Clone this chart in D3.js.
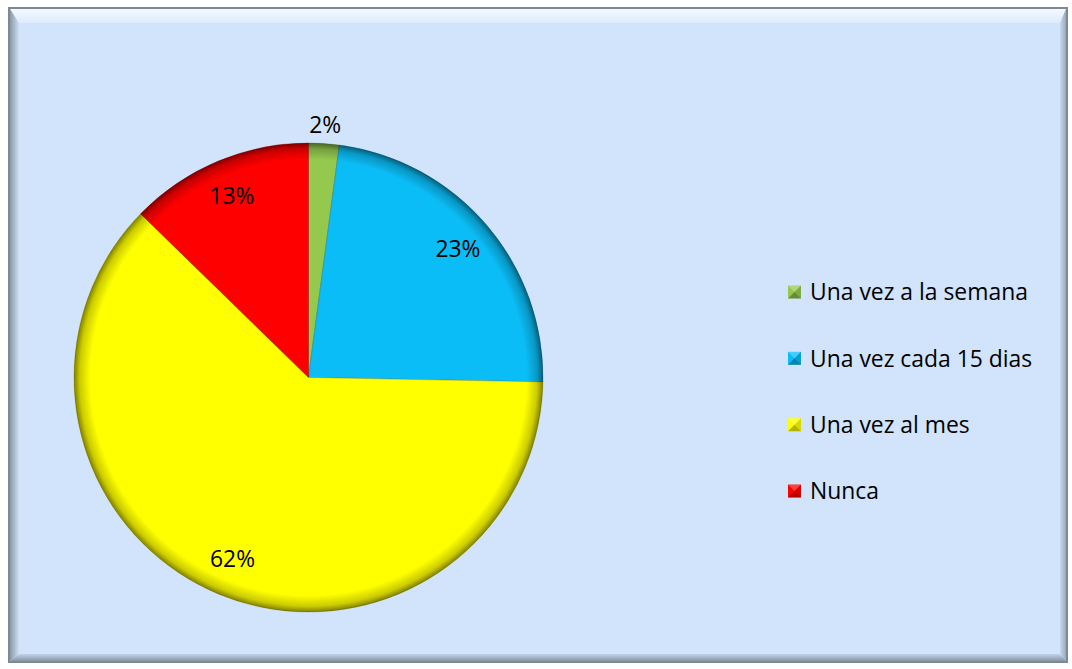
<!DOCTYPE html>
<html><head><meta charset="utf-8">
<script src="https://cdn.jsdelivr.net/npm/d3@7"></script>
<style>body{margin:0;background:#fff}svg{display:block}</style>
</head><body>
<svg id="c" width="1072" height="669"></svg>
<script>
const categories = ["Una vez a la semana", "Una vez cada 15 dias", "Una vez al mes", "Nunca"];
const values = [2.1, 23.2, 62.0, 12.7];
const labels = ["2%", "23%", "62%", "13%"];
const colors = ["#94c94e", "#0bbdf6", "#ffff00", "#ff0000"];
const darkColors = ["#4f7a22", "#06648a", "#8a8a00", "#8a0000"];

const svg = d3.select("#c");
const defs = svg.append("defs");
const FONT = "'Open Sans', Lato, sans-serif";

// frame
const fx = 8, fy = 7, fw = 1060, fh = 656;
svg.append("rect").attr("x", fx).attr("y", fy).attr("width", fw).attr("height", fh).attr("fill", "#7d8a96");
const bg = "#d1e4fc";
function lg(id, x1, y1, x2, y2, c1, c2) {
  const g = defs.append("linearGradient").attr("id", id).attr("x1", x1).attr("y1", y1).attr("x2", x2).attr("y2", y2);
  g.append("stop").attr("offset", 0).attr("stop-color", c1);
  g.append("stop").attr("offset", 1).attr("stop-color", c2);
}
lg("gTop", 0, 0, 0, 1, "#f4f9ff", "#dcebfd");
lg("gLeft", 0, 0, 1, 0, "#8c98a6", "#cfe0f5");
lg("gRight", 0, 0, 1, 0, "#c8daf0", "#9aa8b8");
lg("gBot", 0, 0, 0, 1, "#c2d4ea", "#8896a6");
const ix = fx + 2, iy = fy + 2, iw = fw - 4, ih = fh - 4;
const tb = 14, lb = 9, rb = 6, bb = 7;
svg.append("rect").attr("x", ix).attr("y", iy).attr("width", iw).attr("height", ih).attr("fill", bg);
svg.append("polygon").attr("points", `${ix},${iy} ${ix+iw},${iy} ${ix+iw-rb},${iy+tb} ${ix+lb},${iy+tb}`).attr("fill", "url(#gTop)");
svg.append("polygon").attr("points", `${ix},${iy} ${ix+lb},${iy+tb} ${ix+lb},${iy+ih-bb} ${ix},${iy+ih}`).attr("fill", "url(#gLeft)");
svg.append("polygon").attr("points", `${ix+iw},${iy} ${ix+iw},${iy+ih} ${ix+iw-rb},${iy+ih-bb} ${ix+iw-rb},${iy+tb}`).attr("fill", "url(#gRight)");
svg.append("polygon").attr("points", `${ix},${iy+ih} ${ix+lb},${iy+ih-bb} ${ix+iw-rb},${iy+ih-bb} ${ix+iw},${iy+ih}`).attr("fill", "url(#gBot)");

// pie
const cx = 308.5, cy = 377.5, R = 234.5;
const pie = d3.pie().sort(null).value(d => d)(values);
const arc = d3.arc().innerRadius(0).outerRadius(R);
const g = svg.append("g").attr("transform", `translate(${cx},${cy})`);

const rg = defs.append("radialGradient").attr("id", "rim").attr("cx", 0.5).attr("cy", 0.5).attr("r", 0.5);
rg.append("stop").attr("offset", 0.93).attr("stop-color", "#000").attr("stop-opacity", 0);
rg.append("stop").attr("offset", 0.975).attr("stop-color", "#000").attr("stop-opacity", 0.2);
rg.append("stop").attr("offset", 1).attr("stop-color", "#000").attr("stop-opacity", 0.5);

g.selectAll("path.s").data(pie).enter().append("path").attr("class", "s")
  .attr("d", arc).attr("fill", (d, i) => colors[i])
  .attr("stroke", (d, i) => darkColors[i]).attr("stroke-opacity", 0.35).attr("stroke-width", 1);
g.append("circle").attr("r", R).attr("fill", "url(#rim)");

// labels
const labArc = d3.arc().innerRadius(R * 0.84).outerRadius(R * 0.84);
const outArc = d3.arc().innerRadius(R * 1.08).outerRadius(R * 1.08);
const lt = g.selectAll("text.l").data(pie).enter().append("text").attr("class", "l")
  .attr("transform", (d, i) => {
    const p = (values[i] < 5 ? outArc : labArc).centroid(d);
    return `translate(${p[0]},${p[1]})`;
  })
  .attr("text-anchor", "middle").attr("dy", "0.36em")
  .attr("font-family", FONT).attr("font-size", 20).attr("fill", "#000")
  .text((d, i) => labels[i]);
// fit label font so "23%" is ~45px wide
const w23 = lt.filter((d, i) => i === 1).node().getComputedTextLength();
lt.attr("font-size", 20 * 45 / w23);

// legend
const ly = d3.scalePoint().domain(categories).range([292, 491]);
const leg = svg.append("g");
const texts = [];
categories.forEach((c, i) => {
  const y = ly(c), x = 788, s = 13;
  const gg = leg.append("g").attr("transform", `translate(${x},${y - s/2})`);
  gg.append("rect").attr("width", s).attr("height", s).attr("fill", colors[i]);
  gg.append("polygon").attr("points", `0,0 ${s},0 ${s/2},${s/2}`).attr("fill", "#fff").attr("opacity", 0.25);
  gg.append("polygon").attr("points", `0,${s} ${s},${s} ${s/2},${s/2}`).attr("fill", "#000").attr("opacity", 0.3);
  gg.append("polygon").attr("points", `${s},0 ${s},${s} ${s/2},${s/2}`).attr("fill", "#000").attr("opacity", 0.15);
  texts.push(leg.append("text").attr("x", 810).attr("y", y).attr("dy", "0.36em")
    .attr("font-family", FONT).attr("font-size", 20).attr("fill", "#000").text(c));
});
const w0 = texts[0].node().getComputedTextLength();
texts.forEach(t => t.attr("font-size", 20 * 218 / w0));
</script>
</body></html>
